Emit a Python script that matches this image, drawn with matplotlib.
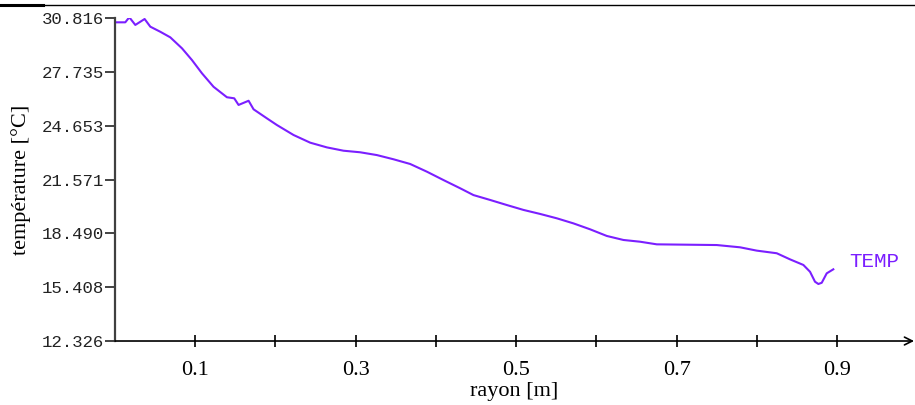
import matplotlib
matplotlib.use("Agg")
import matplotlib.pyplot as plt
from matplotlib.lines import Line2D

# ---- data ----
rayon = [0.000, 0.0128, 0.0178, 0.0253, 0.0369, 0.044, 0.0564, 0.0689, 0.0835, 0.0959,
         0.1084, 0.1228, 0.1395, 0.1486, 0.1540, 0.1665, 0.1727, 0.1894, 0.2018, 0.2225,
         0.2433, 0.2641, 0.2848, 0.3056, 0.3264, 0.3471, 0.3679, 0.3887, 0.4094, 0.4302,
         0.4468, 0.4676, 0.4884, 0.5091, 0.5299, 0.5507, 0.5714, 0.5922, 0.6130, 0.6337,
         0.6545, 0.6753, 0.7501, 0.7791, 0.7999, 0.8248, 0.8414, 0.8580, 0.8663, 0.8725,
         0.8767, 0.8809, 0.8871, 0.8953]
temp = [30.57, 30.57, 30.86, 30.42, 30.76, 30.32, 30.03, 29.71, 29.08, 28.41,
        27.65, 26.88, 26.28, 26.22, 25.84, 26.08, 25.59, 25.07, 24.69, 24.12,
        23.68, 23.41, 23.22, 23.13, 22.97, 22.73, 22.46, 22.02, 21.54, 21.07,
        20.68, 20.40, 20.11, 19.83, 19.60, 19.35, 19.06, 18.72, 18.34, 18.11,
        18.01, 17.86, 17.82, 17.69, 17.50, 17.35, 17.00, 16.68, 16.29, 15.72,
        15.59, 15.66, 16.20, 16.43]
y_ticks = [12.326, 15.408, 18.490, 21.571, 24.653, 27.735, 30.816]
x_ticks = [0.1, 0.2, 0.3, 0.4, 0.5, 0.6, 0.7, 0.8, 0.9]
x_labels = ["0.1", "", "0.3", "", "0.5", "", "0.7", "", "0.9"]
series_name = "TEMP"

color = "#7B1FFF"

fig = plt.figure(figsize=(9.15, 4.05), dpi=100)
ax = fig.add_axes([0.1257, 0.158, 0.8733, 0.7975])

ax.plot(rayon, temp, color=color, lw=1.5)

ax.set_xlim(0, 0.996)
ax.set_ylim(y_ticks[0], y_ticks[-1])

for s in ["top", "right"]:
    ax.spines[s].set_visible(False)
ax.spines["left"].set_color("#404040")
ax.spines["left"].set_linewidth(1.6)
ax.spines["bottom"].set_visible(False)

# x axis with arrow
ax.annotate("", xy=(1.0, 0), xytext=(0, 0), xycoords="axes fraction",
            arrowprops=dict(arrowstyle="->", color="black", lw=1.2,
                            shrinkA=0, shrinkB=0, mutation_scale=14))

ax.set_yticks(y_ticks)
ax.set_yticklabels([f"{v:.3f}" for v in y_ticks],
                   fontfamily="Liberation Mono", fontsize=12.5, color="#222222")
ax.tick_params(axis="y", direction="out", length=7, width=1.2, pad=1, color="#222222")

ax.set_xticks(x_ticks)
ax.set_xticklabels(x_labels, fontfamily="Liberation Serif", fontsize=16)
ax.tick_params(axis="x", direction="inout", length=9, width=1.2, pad=10)

ax.set_xlabel("rayon [m]", fontfamily="Liberation Serif", fontsize=16, labelpad=1)
ax.set_ylabel("température [°C]", fontfamily="Liberation Serif", fontsize=16, labelpad=8)

ax.text(rayon[-1] + 0.0195, 16.9, series_name, color=color,
        fontfamily="Liberation Mono", fontsize=15, va="center", ha="left")

# top border lines
fig.add_artist(Line2D([0, 1], [1 - 4.5/405, 1 - 4.5/405], color="black", lw=1.0,
                      transform=fig.transFigure))
fig.add_artist(Line2D([0, 43/915], [1 - 5/405, 1 - 5/405], color="black", lw=2.2,
                      transform=fig.transFigure))

fig.savefig("out.png", dpi=100)
